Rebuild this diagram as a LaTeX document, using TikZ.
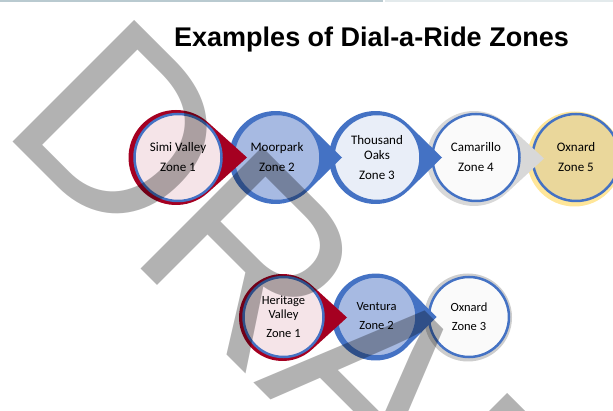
\documentclass[tikz,border=0pt]{standalone}
\usepackage{fontspec}
\setmainfont{Carlito}
\newfontfamily\arialfont{Liberation Sans}

\definecolor{zonered}{RGB}{165,0,33}
\definecolor{zoneblue}{RGB}{68,114,196}
\definecolor{pinkfill}{RGB}{245,228,232}
\definecolor{midblue}{RGB}{167,186,226}
\definecolor{paleblue}{RGB}{233,238,248}
\definecolor{offwhite}{RGB}{250,250,250}
\definecolor{dropgray}{RGB}{216,216,216}
\definecolor{ringgray}{RGB}{205,205,205}
\definecolor{sandfill}{RGB}{234,215,155}
\definecolor{sandring}{RGB}{255,230,153}
\definecolor{ruleblue}{RGB}{185,202,208}

\tikzset{
  zonecircle/.style = {circle, draw = zoneblue, line width = 2.5pt, inner sep = 0pt,
                       minimum size = 87pt, align = center, font = \fontsize{13}{15}\selectfont},
  smallzone/.style  = {zonecircle, minimum size = 80pt, font = \fontsize{12.5}{14}\selectfont},
  watermark/.style  = {anchor = base west, inner sep = 0pt, rotate = -45, text = black,
                       opacity = 0.3, font = \arialfont\fontsize{250}{250}\selectfont}
}

% teardrop: centre x, centre y, radius, tip distance, colour
\newcommand\dropshape[5]{%
  \pgfmathsetmacro\dropang{acos(#3/#4)}
  \fill[#5] (#1, #2) ++(\dropang:#3)
    arc[start angle = \dropang, end angle = 360 - \dropang, radius = #3]
    -- (#1 + #4, #2) -- cycle;
}

\begin{document}
\begin{tikzpicture}[x = 1pt, y = -1pt]
  \useasboundingbox (0, 0) rectangle (613, 411);
  \draw[ruleblue, line width = 2pt]    (0, 1)   -- (383, 1);
  \draw[ruleblue!40, line width = 2pt] (385, 1) -- (613, 1);
  \node[font = \arialfont\bfseries\fontsize{27}{27}\selectfont] (title) at (371.5, 40)
       {Examples of Dial-a-Ride Zones};

  % upper row, right to left
  \fill[sandring] (574.5, 159) circle (47.5);
  \node[zonecircle, fill = sandfill] (oxnardfive) at (576, 157.5) {Oxnard\\[5pt]Zone 5};
  \dropshape{474}{158.5}{47.5}{70}{dropgray}
  \node[zonecircle, fill = offwhite] (camarillo) at (476, 157.5) {Camarillo\\[5pt]Zone 4};
  \dropshape{375.5}{157.5}{46.5}{66.5}{zoneblue}
  \node[zonecircle, fill = paleblue] (thousand) at (377, 157.5) {Thousand\\Oaks\\[5pt]Zone 3};
  \dropshape{275.5}{157.5}{46.5}{66.5}{zoneblue}
  \node[zonecircle, fill = midblue] (moorpark) at (277, 157.5) {Moorpark\\[5pt]Zone 2};
  \dropshape{176}{157.5}{47.5}{71}{zonered}
  \node[zonecircle, fill = pinkfill] (simi) at (178, 157.5) {Simi Valley\\[5pt]Zone 1};

  % lower row
  \fill[ringgray] (468, 317.5) circle (44);
  \node[smallzone, fill = offwhite] (oxnardthree) at (469, 317) {Oxnard\\[5pt]Zone 3};
  \dropshape{375.5}{317}{43.5}{61}{zoneblue}
  \node[smallzone, fill = midblue] (ventura) at (376.5, 316.5) {Ventura\\[5pt]Zone 2};
  \dropshape{282.5}{317.5}{43.5}{64.5}{zonered}
  \node[smallzone, fill = pinkfill] (heritage) at (283.5, 317) {Heritage\\Valley\\[5pt]Zone 1};

  \node[watermark] (draft) at (-1.5, 127) {DRAFT};
\end{tikzpicture}
\end{document}
